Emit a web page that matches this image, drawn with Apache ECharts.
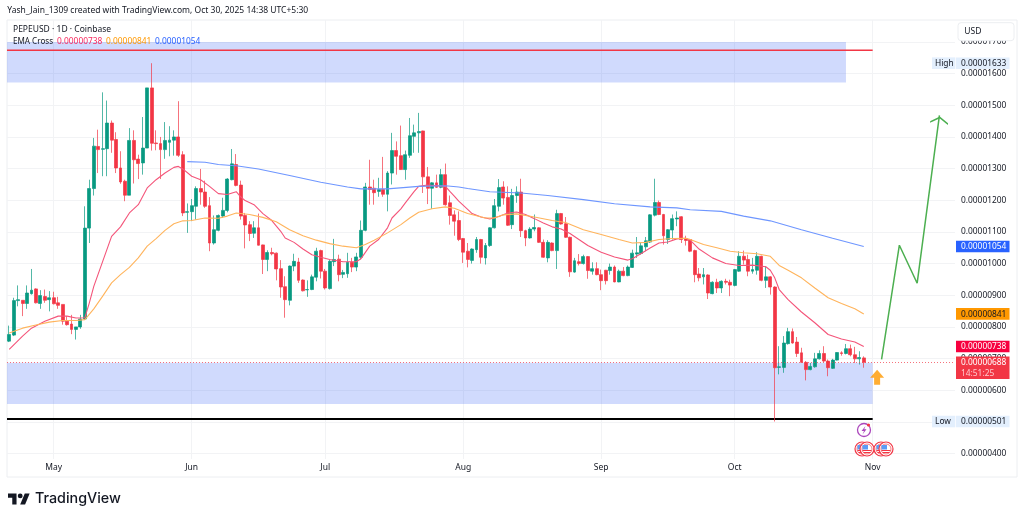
<!DOCTYPE html>
<html><head><meta charset="utf-8"><style>html,body{margin:0;padding:0;background:#fff}#c{width:1024px;height:521px}</style>
<script src="https://cdn.jsdelivr.net/npm/echarts@6/dist/echarts.min.js"></script></head><body><div id="c"></div>
<script>
// prices are in units of 0.00000001 USD
const firstDay = "2025-04-21", dayCount = 213;
const monthTicks = {"2025-05-01":"May","2025-06-01":"Jun","2025-07-01":"Jul","2025-08-01":"Aug","2025-09-01":"Sep","2025-10-01":"Oct","2025-11-01":"Nov"};
const opens = [755,774,883,884,874,905,920,874,896,886,
892,876,871,818,809,792,800,825,1112,1237,
1370,1361,1363,1444,1392,1302,1260,1216,1389,1330,
1318,1365,1555,1381,1379,1360,1383,1390,1400,1344,
1162,1164,1181,1237,1226,1183,1065,1105,1150,1168,
1265,1313,1248,1152,1123,1096,1113,1059,1013,1035,
1033,984,927,884,992,1005,948,917,918,957,
1041,976,921,1006,1014,966,968,1004,989,1020,
1105,1242,1238,1228,1234,1219,1286,1357,1341,1297,
1342,1402,1413,1419,1274,1238,1255,1241,1281,1192,
1154,1136,1079,1039,1010,1044,1076,1018,1057,1113,
1181,1242,1209,1123,1215,1226,1104,1081,1109,1113,
1067,1018,1065,1041,1158,1126,1083,973,1006,1000,
1022,976,984,965,979,978,989,942,976,962,
988,1030,1032,1053,1068,1153,1193,1155,1076,1106,
1141,1148,1078,1076,1041,967,958,964,905,941,
923,944,941,931,976,1023,1013,976,979,1023,
947,958,926,672,672,747,785,752,718,688,
665,674,699,716,692,669,695,718,716,731,
712,699,702];
const closes = [776,883,886,874,907,916,876,899,884,892,
873,868,818,807,792,800,825,1112,1237,1371,
1360,1363,1444,1390,1302,1258,1216,1389,1328,1316,
1365,1555,1380,1379,1360,1389,1390,1400,1342,1160,
1164,1183,1237,1226,1181,1065,1107,1152,1168,1267,
1315,1247,1150,1122,1095,1113,1058,1013,1035,1031,
983,926,886,992,1007,947,914,918,958,1039,
976,923,1007,1013,965,972,1004,989,1021,1105,
1242,1234,1224,1234,1219,1286,1357,1339,1297,1344,
1404,1413,1417,1274,1238,1255,1241,1281,1186,1152,
1134,1076,1036,1013,1046,1076,1020,1057,1113,1183,
1240,1207,1121,1215,1226,1104,1081,1109,1114,1067,
1020,1067,1041,1158,1125,1083,974,1009,1000,1022,
978,984,965,946,946,989,942,976,962,989,
1033,1034,1056,1072,1154,1193,1155,1088,1107,1142,
1144,1076,1073,1039,965,955,965,907,941,923,
944,941,932,981,1023,1011,976,981,1023,947,
958,926,671,674,749,785,749,716,688,665,
675,699,716,692,671,695,719,716,731,712,
699,703,688];
const lows = [752,771,865,834,857,902,874,857,876,849,
871,857,807,804,777,760,794,822,1065,1215,
1286,1276,1276,1350,1286,1252,1197,1216,1253,1267,
1281,1365,1357,1358,1267,1331,1339,1341,1337,1150,
1097,1134,1139,1186,1176,1039,1060,1102,1144,1162,
1263,1244,1139,1048,1071,1081,1057,967,976,1026,
947,892,829,868,976,939,912,895,916,944,
953,918,918,992,944,954,955,973,976,1013,
1102,1186,1186,1211,1211,1165,1250,1281,1296,1265,
1334,1350,1350,1223,1188,1173,1239,1238,1183,1123,
1088,1071,1002,988,1000,1034,1000,997,1053,1111,
1165,1186,1119,1109,1192,1084,1055,1079,1102,1065,
1018,1004,1039,983,1123,1081,958,971,994,997,
952,965,963,916,934,965,941,941,960,960,
986,1018,1028,1039,1065,1149,1153,1060,1062,1076,
1118,1065,1057,1036,941,944,934,888,903,907,
907,934,897,928,974,997,960,968,965,944,
923,902,501,650,655,744,747,705,686,631,
663,671,697,688,644,667,694,709,713,707,
686,681,671];
const highs = [804,892,931,884,931,983,922,916,918,913,
911,895,871,834,838,800,838,1181,1265,1397,
1423,1541,1515,1452,1415,1355,1265,1428,1421,1344,
1463,1555,1633,1421,1400,1447,1434,1421,1513,1355,
1190,1204,1244,1299,1262,1210,1152,1155,1208,1270,
1362,1346,1262,1160,1134,1134,1158,1060,1042,1050,
1035,1011,960,994,1031,1018,950,947,965,1050,
1044,983,1013,1078,1028,980,1034,1018,1034,1136,
1255,1328,1265,1271,1337,1292,1413,1386,1436,1357,
1460,1439,1476,1420,1305,1257,1281,1299,1316,1215,
1168,1165,1081,1065,1048,1084,1078,1065,1115,1204,
1267,1260,1244,1236,1244,1268,1107,1115,1155,1115,
1076,1074,1067,1170,1160,1147,1085,1018,1030,1028,
1024,1004,1004,981,980,1000,994,981,989,994,
1044,1084,1065,1084,1156,1268,1199,1157,1109,1155,
1165,1150,1088,1078,1044,986,986,966,944,952,
947,952,949,983,1039,1041,1028,1018,1036,1025,
992,960,928,739,771,797,795,768,734,692,
686,718,726,739,697,699,720,723,746,744,
737,723,707];
// EMA read at sampled days: [day index, value]
const ema20 = [[0,729],[3,771],[5,796],[8,818],[11,834],[13,834],[15,828],[17,829],[18,876],[19,928],[21,1007],[23,1086],[25,1116],[27,1160],[29,1186],[31,1239],[33,1265],[35,1286],[37,1304],[38,1307],[39,1299],[41,1276],[43,1265],[45,1244],[47,1221],[49,1218],[51,1227],[52,1211],[53,1199],[55,1186],[57,1158],[59,1136],[61,1102],[62,1081],[64,1067],[66,1046],[68,1028],[70,1020],[72,1013],[75,1006],[78,1006],[79,1015],[81,1055],[83,1076],[85,1113],[86,1144],[88,1173],[89,1192],[91,1228],[92,1244],[94,1248],[96,1246],[98,1244],[99,1228],[100,1213],[101,1197],[103,1171],[104,1158],[106,1147],[108,1141],[110,1149],[112,1160],[114,1163],[116,1155],[118,1142],[120,1128],[122,1116],[124,1109],[126,1095],[128,1076],[130,1057],[133,1036],[136,1021],[139,1011],[140,1015],[142,1032],[144,1049],[146,1065],[148,1068],[150,1078],[152,1080],[153,1074],[155,1046],[158,1018],[161,1000],[164,994],[167,995],[170,990],[171,979],[172,955],[173,918],[175,886],[178,847],[181,813],[184,776],[187,762],[190,752],[192,738]];
const ema50 = [[0,781],[3,796],[6,806],[9,815],[12,820],[15,820],[17,823],[19,857],[21,897],[23,939],[25,965],[27,988],[29,1018],[31,1055],[33,1079],[35,1105],[37,1126],[39,1135],[41,1136],[44,1144],[47,1143],[49,1150],[51,1160],[54,1155],[57,1146],[60,1132],[63,1107],[66,1088],[69,1074],[72,1063],[75,1055],[78,1050],[80,1060],[82,1074],[85,1097],[88,1123],[90,1144],[92,1162],[95,1173],[98,1179],[100,1175],[103,1158],[107,1144],[109,1144],[111,1154],[114,1157],[118,1147],[122,1136],[125,1130],[129,1107],[133,1092],[137,1076],[140,1065],[143,1067],[146,1076],[149,1079],[152,1080],[153,1076],[156,1060],[159,1050],[162,1039],[165,1034],[168,1031],[171,1023],[173,994],[175,979],[178,955],[181,923],[184,892],[187,874],[190,857],[192,841]];
const ema200 = [[40,1322],[44,1320],[47,1313],[50,1310],[51,1309],[56,1299],[63,1278],[70,1257],[76,1242],[79,1236],[85,1236],[92,1244],[98,1246],[101,1242],[103,1237],[108,1227],[115,1223],[121,1215],[129,1202],[136,1189],[144,1179],[150,1176],[153,1170],[160,1165],[165,1150],[171,1135],[178,1107],[185,1080],[192,1054]];
const projection = [[196,697],[200,1058],[204,938],[209,1468]];
const upArrow = [[195,641]];
// [first day, last day, low, high]
const zones = [[0,188,1572,1700],[0,194,556,687]];
// [first day, last day, price, colour]
const levels = [[0,194,1674,"#f23645",1.5],[0,194,509,"#000000",2]];
const yTicks = {min:400,max:1700,step:100};
const lastPrice = 688;
const tags = {high:1633,low:501,ema20:738,ema50:841,ema200:1054};
const emaLegend = ["0.00000738","0.00000841","0.00001054"];
const FONT = '"Noto Sans",sans-serif', TXT = "#131722";

const pad=n=>String(n).padStart(2,"0");
const dates=[];{const d0=new Date(firstDay+"T00:00:00Z");for(let i=0;i<dayCount;i++){const d=new Date(d0.getTime()+i*864e5);dates.push(d.getUTCFullYear()+"-"+pad(d.getUTCMonth()+1)+"-"+pad(d.getUTCDate()));}}
const candles=opens.map((o,i)=>[o,closes[i],lows[i],highs[i]]);
const fmt=v=>(v/1e8).toFixed(8);
const isTick=(i,v)=>monthTicks[v]!==undefined;

const chart=echarts.init(document.getElementById("c"),null,{renderer:"canvas"});
const L=7,R=1024-955;
const lineS=(data,color)=>({type:"line",xAxisIndex:0,yAxisIndex:0,data,showSymbol:false,symbol:"none",lineStyle:{color,width:1.1},z:4,silent:true,animation:false});
chart.setOption({
 animation:false,backgroundColor:"#fff",
 grid:[{left:L,right:R,top:42,bottom:521-453.5},{left:L,right:R,top:20,bottom:521-459}],
 xAxis:[
  {type:"category",gridIndex:0,data:dates,show:false},
  {type:"category",gridIndex:1,data:dates,axisLine:{show:false},axisTick:{show:false},
   axisLabel:{interval:isTick,formatter:v=>monthTicks[v]||"",color:TXT,fontSize:8.5,fontFamily:FONT,margin:4,hideOverlap:false},
   splitLine:{show:true,interval:isTick,alignWithLabel:true,lineStyle:{color:"#f2f3f5",width:1}}}
 ],
 yAxis:[
  {type:"value",gridIndex:0,position:"right",min:yTicks.min,max:yTicks.max,interval:yTicks.step,axisLine:{show:false},axisTick:{show:false},
   axisLabel:{formatter:fmt,color:TXT,fontSize:8.4,fontFamily:FONT,margin:6,padding:[2,0,0,0],showMinLabel:true,showMaxLabel:true},
   splitLine:{show:true,lineStyle:{color:"#f2f3f5",width:1}}},
  {type:"value",gridIndex:1,min:0,max:1,show:false}
 ],
 series:[
  {type:"custom",xAxisIndex:0,yAxisIndex:0,data:zones,silent:true,z:1,renderItem(p,api){
    const a=api.coord([api.value(1),api.value(3)]),b=api.coord([api.value(1),api.value(2)]);
    const x0=p.coordSys.x;
    return {type:"rect",shape:{x:x0,y:a[1],width:a[0]-x0,height:b[1]-a[1]},style:{fill:"rgba(60,100,245,0.24)"}};}},
  {type:"custom",xAxisIndex:0,yAxisIndex:0,data:levels.map(l=>l.slice(0,3)),silent:true,z:2,renderItem(p,api){
    const a=api.coord([api.value(1),api.value(2)]),x0=p.coordSys.x,l=levels[p.dataIndex];
    return {type:"line",shape:{x1:x0,y1:a[1],x2:a[0],y2:a[1]},style:{stroke:l[3],lineWidth:l[4]}};}},
  {type:"candlestick",xAxisIndex:0,yAxisIndex:0,data:candles,barWidth:3.4,silent:true,z:3,
   itemStyle:{color:"#089981",color0:"#f23645",borderColor:"#089981",borderColor0:"#f23645",borderWidth:0.7},
   markLine:{silent:true,symbol:"none",label:{show:false},animation:false,data:[{yAxis:lastPrice}],lineStyle:{color:"#f23645",type:[1,2],width:1,opacity:.7}}},
  lineS(ema20,"#f4557a"),lineS(ema50,"#ffb45c"),lineS(ema200,"#6e96ff"),
  {type:"line",xAxisIndex:0,yAxisIndex:0,z:5,silent:true,lineStyle:{color:"#4caf50",width:1.5},showSymbol:true,showAllSymbol:true,symbol:"none",
   data:projection.map((p,i)=>i<projection.length-1?{value:p,symbol:"none"}:{value:p,symbol:"path://M0 9 L8 0 L16 9 L16 9.01 L8 0.01 L0 9.01 Z",symbolSize:[16,9],symbolRotate:-7,symbolOffset:[0,"50%"],symbolKeepAspect:true,itemStyle:{color:"none",borderColor:"#4caf50",borderWidth:1.5}})},
  {type:"scatter",xAxisIndex:0,yAxisIndex:0,data:upArrow,z:6,silent:true,symbol:"path://M7 0 L14 8 L10 8 L10 15 L4 15 L4 8 L0 8 Z",symbolSize:[14,15],itemStyle:{color:"#ff9800"}}
 ]
});

const py=v=>chart.convertToPixel({yAxisIndex:0},v);
const Z=100;
const rect=(x,y,w,h,fill,extra={})=>({type:"rect",z:Z,shape:{x,y,width:w,height:h,r:extra.r||0},style:{fill,stroke:extra.stroke,lineWidth:extra.lw||0}});
const text=(x,y,s,fill,size=8.5,extra={})=>({type:"text",z:Z+1,x,y,style:{text:s,fill,font:(extra.weight||"")+" "+size+"px "+(extra.family||FONT),textVerticalAlign:"middle",textAlign:extra.align||"left"}});
const TAGX=956,TAGW=53.5,TAGH=11.6,TX=961;
const tag=(v,fill,color,s)=>[rect(TAGX,py(v)-TAGH/2,TAGW,TAGH,fill),text(TX,py(v)+.5,s||fmt(v),color,8.4)];
const side=(v,label)=>[rect(932,py(v)-TAGH/2,23.3,TAGH,"#e3effd"),text(935,py(v)+.5,label,TXT,8.4),rect(TAGX,py(v)-TAGH/2,TAGW,TAGH,"#e3effd"),text(TX,py(v)+.5,fmt(v),TXT,8.4)];
const flag=(cx,cy)=>[
 {type:"circle",z:Z,shape:{cx,cy,r:7},style:{fill:"#fff",stroke:"#f23645",lineWidth:1.2}},
 {type:"circle",z:Z,shape:{cx,cy,r:5},style:{fill:"#fff",stroke:"#f77c80",lineWidth:1}},
 {type:"rect",z:Z,shape:{x:cx-4.5,y:cy-4,width:5.5,height:4.5},style:{fill:"#5b9cf6"}},
 {type:"line",z:Z,shape:{x1:cx-4.5,y1:cy+1.5,x2:cx+4.5,y2:cy+1.5},style:{stroke:"#f23645",lineWidth:1}},
 {type:"line",z:Z,shape:{x1:cx-3.5,y1:cy+3.5,x2:cx+3.5,y2:cy+3.5},style:{stroke:"#f23645",lineWidth:1}}
];
const logoT=[[14,22],[7,22],[7,11],[0,11],[0,4],[14,4]], logoS=[[28,22],[20,22],[27.5,4],[35.5,4]];
chart.setOption({graphic:[
 {type:"rect",z:-1,silent:true,shape:{x:7,y:20,width:1010,height:457},style:{fill:"none",stroke:"#eceef1",lineWidth:1}},
 text(7.3,10.5,"Yash_Jain_1309 created with TradingView.com, Oct 30, 2025 14:38 UTC+5:30",TXT),
 text(13,30,"PEPEUSD · 1D · Coinbase",TXT),
 text(13,42,"EMA Cross",TXT,8.1),
 text(57,42,emaLegend[0],"#f7285e",8.4),text(106,42,emaLegend[1],"#ff9800",8.4),text(155,42,emaLegend[2],"#2962ff",8.4),
 rect(958,22.7,56,18,"#fff",{stroke:"#eceef1",lw:1,r:3}),text(964.3,32,"USD",TXT),
 ...side(tags.high,"High"),...side(tags.low,"Low"),
 ...tag(tags.ema200,"#2962ff","#fff"),
 ...tag(tags.ema50,"#ff9800",TXT),
 ...tag(tags.ema20,"#f7003f","#fff"),
 rect(TAGX,py(lastPrice)-TAGH/2,TAGW,22.4,"#f23645"),
 text(TX,py(lastPrice)+.5,fmt(lastPrice),"#fff",8.4),text(TX,py(lastPrice)+11,"14:51:25","#ffc9cd",8.4),
 {type:"circle",z:Z,shape:{cx:864,cy:430,r:6.5},style:{fill:"#fff",stroke:"#ab47bc",lineWidth:1.3}},
 {type:"polygon",z:Z+1,shape:{points:[[865.5,426],[861.5,431],[864,431],[862.5,434.5],[866.5,429.3],[864.2,429.3]]},style:{fill:"#ab47bc"}},
 {type:"circle",z:Z+1,shape:{cx:868.5,cy:425,r:1.6},style:{fill:"#f23645"}},
 ...flag(862,449),...flag(867,449),...flag(881,449),...flag(886,449),
 {type:"group",z:Z,x:8,y:491,scaleX:.61,scaleY:.61,children:[
   {type:"polygon",z:Z,shape:{points:logoT},style:{fill:"#131722"}},
   {type:"polygon",z:Z,shape:{points:logoS},style:{fill:"#131722"}},
   {type:"circle",z:Z,shape:{cx:20,cy:8,r:4},style:{fill:"#131722"}}]},
 text(35,498.5,"TradingView",TXT,14.3,{weight:"500",family:'Inter,sans-serif'})
]});
</script></body></html>
